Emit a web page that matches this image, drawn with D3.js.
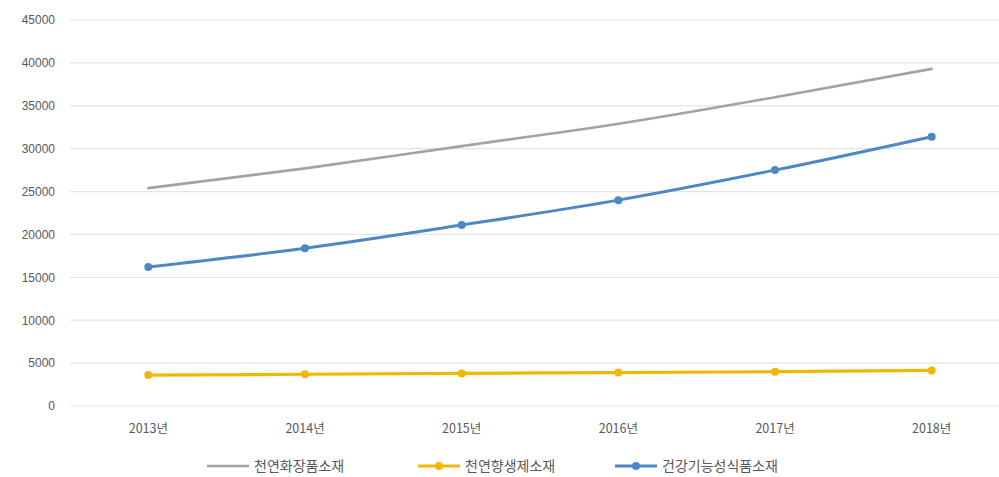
<!DOCTYPE html>
<html>
<head>
<meta charset="utf-8">
<script src="https://cdn.jsdelivr.net/npm/d3@7"></script>
<style>
  html, body { margin: 0; padding: 0; background: #fff; }
  svg { display: block; }
</style>
</head>
<body>
<svg id="chart" width="999" height="477"></svg>
<script>
// Years on the x axis
const years = ["2013년", "2014년", "2015년", "2016년", "2017년", "2018년"];
// Series values
const cosmetics = [25400, 27700, 30300, 32900, 36000, 39300];   // 천연화장품소재
const flavor    = [3600, 3700, 3800, 3900, 4000, 4150];          // 천연향생제소재
const health    = [16200, 18400, 21100, 24000, 27500, 31400];    // 건강기능성식품소재
const seriesNames = ["천연화장품소재", "천연향생제소재", "건강기능성식품소재"];
const yTicks = [0, 5000, 10000, 15000, 20000, 25000, 30000, 35000, 40000, 45000];

const series = [
  { name: seriesNames[0], values: cosmetics, color: "#a3a3a3", width: 2.6, marker: false },
  { name: seriesNames[1], values: flavor,    color: "#f2b705", width: 3.2, marker: true },
  { name: seriesNames[2], values: health,    color: "#4d88c4", width: 3.0, marker: true }
];

const svg = d3.select("#chart");
const plot = { left: 70, right: 1010, top: 20, bottom: 406 };

const x = d3.scaleBand().domain(years).range([plot.left, plot.right]);
const y = d3.scaleLinear().domain([0, 45000]).range([plot.bottom, plot.top]);

// Gridlines
svg.append("g")
  .selectAll("line")
  .data(yTicks)
  .join("line")
  .attr("x1", plot.left).attr("x2", 999)
  .attr("y1", d => y(d)).attr("y2", d => y(d))
  .attr("stroke", "#e3e3e3").attr("stroke-width", 1.2);

// Y axis labels
const yAxis = d3.axisLeft(y).tickValues(yTicks).tickFormat(d3.format("d")).tickSize(0).tickPadding(15);
svg.append("g")
  .attr("transform", `translate(${plot.left},0)`)
  .call(yAxis)
  .call(g => g.select(".domain").remove())
  .call(g => g.selectAll("text")
    .attr("fill", "#595959")
    .style("font-family", "'Liberation Sans', Arial, sans-serif")
    .style("font-size", "12px"));

// X axis labels
const xAxis = d3.axisBottom(x).tickSize(0).tickPadding(18);
svg.append("g")
  .attr("transform", `translate(0,${plot.bottom})`)
  .call(xAxis)
  .call(g => g.select(".domain").remove())
  .call(g => g.selectAll("text")
    .attr("fill", "#595959")
    .style("font-family", "'Noto Sans CJK KR', sans-serif")
    .style("font-size", "12.5px"));

const cx = d => x(d) + x.bandwidth() / 2;
const line = d3.line()
  .x((d, i) => cx(years[i]))
  .y(d => y(d))
  .curve(d3.curveMonotoneX);

series.forEach(s => {
  svg.append("path")
    .datum(s.values)
    .attr("d", line)
    .attr("fill", "none")
    .attr("stroke", s.color)
    .attr("stroke-width", s.width)
    .attr("stroke-linecap", "round");
  if (s.marker) {
    svg.append("g")
      .selectAll("circle")
      .data(s.values)
      .join("circle")
      .attr("cx", (d, i) => cx(years[i]))
      .attr("cy", d => y(d))
      .attr("r", 4)
      .attr("fill", s.color);
  }
});

// Legend
const legendX = [207, 418, 615];
const legend = svg.append("g").attr("transform", "translate(0,466)");
series.forEach((s, i) => {
  const g = legend.append("g").attr("transform", `translate(${legendX[i]},0)`);
  g.append("line")
    .attr("x1", 0).attr("x2", 42)
    .attr("y1", 0).attr("y2", 0)
    .attr("stroke", s.color).attr("stroke-width", s.width);
  if (s.marker) {
    g.append("circle").attr("cx", 21).attr("cy", 0).attr("r", 4).attr("fill", s.color);
  }
  g.append("text")
    .attr("x", 47).attr("y", 0)
    .attr("dy", "0.35em")
    .attr("fill", "#595959")
    .style("font-family", "'Noto Sans CJK KR', sans-serif")
    .style("font-size", "14px")
    .text(s.name);
});
</script>
</body>
</html>
